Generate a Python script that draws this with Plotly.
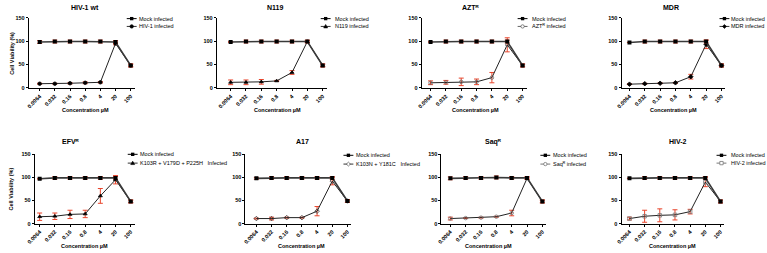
import plotly.graph_objects as go

# ---------------- data ----------------
conc = ["0.0064", "0.032", "0.16", "0.8", "4", "20", "100"]

titles = ["HIV-1 wt", "N119", "AZTᴿ", "MDR", "EFVᴿ", "A17", "Saqᴿ", "HIV-2"]
infected_names = ["HIV-1 infected", "N119 infected", "AZTᴿ infected", "MDR infected",
                  "K103R + V179D + P225H   Infected", "K103N + Y181C   Infected",
                  "Saqᴿ infected", "HIV-2 infected"]

mock_hiv1 = [98, 99, 99, 99, 99, 98, 48]
mock_hiv1_err = [3, 3, 3, 3, 3, 3, 3]
inf_hiv1 = [9, 9, 10, 11, 12, 95, 48]
inf_hiv1_err = [1, 1, 1.5, 2, 1.5, 3, 3]

mock_n119 = [98, 99, 99, 99, 99, 99, 48]
mock_n119_err = [1, 3, 3, 3, 3, 3, 3]
inf_n119 = [12, 12, 13, 15, 33, 99, 48]
inf_n119_err = [5, 5, 5, 1, 4, 2, 3]

mock_azt = [98, 99, 99, 99, 99, 99, 48]
mock_azt_err = [0, 3, 3, 3, 3, 3, 3]
inf_azt = [11, 12, 13, 13, 22, 92, 48]
inf_azt_err = [4, 4, 8, 6, 11, 15, 3]

mock_mdr = [97, 99, 99, 99, 99, 99, 48]
mock_mdr_err = [0, 3, 3, 3, 3, 3, 3]
inf_mdr = [8, 9, 10, 11, 24, 93, 48]
inf_mdr_err = [1, 1, 1, 1, 5, 9, 3]

mock_efv = [97, 99, 99, 99, 99, 99, 48]
mock_efv_err = [0, 3, 3, 3, 3, 3, 3]
inf_efv = [15, 16, 20, 21, 60, 95, 48]
inf_efv_err = [8, 7, 9, 8, 16, 9, 3]

mock_a17 = [98, 99, 99, 99, 99, 99, 49]
mock_a17_err = [2, 3, 3, 3, 3, 3, 3]
inf_a17 = [11, 11, 13, 13, 27, 92, 49]
inf_a17_err = [1, 3, 1, 1, 10, 8, 3]

mock_saq = [98, 99, 99, 100, 99, 99, 48]
mock_saq_err = [3, 3, 3, 3, 3, 3, 3]
inf_saq = [11, 12, 13, 15, 23, 98, 48]
inf_saq_err = [3, 1, 1, 1, 6, 2, 3]

mock_hiv2 = [98, 99, 99, 99, 99, 99, 48]
mock_hiv2_err = [0, 3, 3, 3, 3, 3, 3]
inf_hiv2 = [11, 16, 18, 19, 26, 90, 48]
inf_hiv2_err = [3, 13, 14, 11, 5, 10, 3]

mock_sets = [(mock_hiv1, mock_hiv1_err), (mock_n119, mock_n119_err), (mock_azt, mock_azt_err),
             (mock_mdr, mock_mdr_err), (mock_efv, mock_efv_err), (mock_a17, mock_a17_err),
             (mock_saq, mock_saq_err), (mock_hiv2, mock_hiv2_err)]
inf_sets = [(inf_hiv1, inf_hiv1_err), (inf_n119, inf_n119_err), (inf_azt, inf_azt_err),
            (inf_mdr, inf_mdr_err), (inf_efv, inf_efv_err), (inf_a17, inf_a17_err),
            (inf_saq, inf_saq_err), (inf_hiv2, inf_hiv2_err)]

# ---------------- styling / layout ----------------
W, H = 767, 253
FONT = "Liberation Sans Narrow, Liberation Sans, Arial, sans-serif"
FONT2 = "Liberation Sans, DejaVu Sans, Arial, sans-serif"
RED = "#e8452c"

# panel geometry in pixels: axis left, first cat, last cat, axis right, row
geom = [
    (21, 32, 124, 128, 0), (211, 225, 318, 322, 0), (418, 427, 520, 524, 0), (620, 628, 721, 725, 0),
    (27, 32, 124, 128, 1), (240, 251, 343, 347, 1), (438, 447, 540, 544, 1), (620, 628, 720, 724, 1),
]
rows_y = [(15, 87), (155, 226)]
title_pos = [(78, 5), (270, 5), (468, 5), (670, 5), (64, 142), (298, 142), (491, 142), (677, 142)]
xlab_pos = [(78, 110), (272, 110), (472, 110), (673, 110), (77, 249), (297, 249), (486, 249), (672, 249)]
leg_pos = [(125, 130, 16, 24), (321, 328, 16, 24), (520, 527, 16, 24), (724, 729, 16, 24),
           (126, 131, 155, 164), (344, 350, 156, 165), (543, 549, 156, 165), (721, 729, 156, 164)]
inf_marker = [("circle", "black"), ("triangle-up", "black"), ("circle-open", "#666"), ("diamond", "black"),
              ("triangle-up", "black"), ("diamond-open", "#333"), ("circle-open", "#777"), ("square-open", "#777")]


def px(x):
    return x / W


def py(y):
    return 1 - y / H


fig = go.Figure()
layout = dict(width=W, height=H, margin=dict(l=0, r=0, t=0, b=0),
              paper_bgcolor="white", plot_bgcolor="white", showlegend=False)
annotations = []
shapes = []

for i in range(8):
    L, C0, C6, R, row = geom[i]
    s = (C6 - C0) / 6
    xr = [-(C0 - L) / s, 6 + (R - C6) / s]
    yt, yb = rows_y[row]
    xa = "xaxis" if i == 0 else f"xaxis{i+1}"
    ya = "yaxis" if i == 0 else f"yaxis{i+1}"
    xref = "x" if i == 0 else f"x{i+1}"
    yref = "y" if i == 0 else f"y{i+1}"
    layout[xa] = dict(domain=[px(L), px(R)], anchor=yref, type="category", range=xr,
                      showline=True, linecolor="black", linewidth=1, ticks="outside", ticklen=2,
                      tickwidth=1, tickcolor="black", tickangle=-45, showgrid=False, zeroline=False,
                      tickfont=dict(family=FONT, size=5.5, color="black", weight="bold"))
    layout[ya] = dict(domain=[py(yb), py(yt)], anchor=xref, range=[0, 150], tickvals=[0, 50, 100, 150],
                      showline=True, linecolor="black", linewidth=1, ticks="outside", ticklen=2,
                      tickwidth=1, tickcolor="black", showgrid=False, zeroline=False,
                      tickfont=dict(family=FONT, size=5.5, color="black", weight="bold"))

    iv, ie = inf_sets[i]
    sym, col = inf_marker[i]
    fig.add_trace(go.Scatter(
        x=conc, y=iv, xaxis=xref, yaxis=yref, mode="lines+markers", name=infected_names[i],
        line=dict(color="#222", width=1),
        marker=dict(symbol=sym, size=3.5, color=col, line=dict(color=col, width=0.8)),
        error_y=dict(type="data", array=ie, visible=True, color=RED, thickness=1, width=2.5)))
    mv, me = mock_sets[i]
    fig.add_trace(go.Scatter(
        x=conc, y=mv, xaxis=xref, yaxis=yref, mode="lines+markers", name="Mock infected",
        line=dict(color="#3a3a3a", width=1.6),
        marker=dict(symbol="square", size=4, color="black"),
        error_y=dict(type="data", array=me, visible=True, color=RED, thickness=1, width=2.5)))

    tx, ty = title_pos[i]
    annotations.append(dict(text=titles[i], x=px(tx), y=py(ty), xref="paper", yref="paper",
                            xanchor="center", yanchor="middle", showarrow=False,
                            font=dict(family=FONT2, size=7, color="black", weight="bold")))
    lx, ly = xlab_pos[i]
    annotations.append(dict(text="Concentration µM", x=px(lx), y=py(ly), xref="paper", yref="paper",
                            xanchor="center", yanchor="middle", showarrow=False,
                            font=dict(family=FONT2, size=5.5, color="black", weight="bold")))

    # legend (keys drawn as shapes, labels as text)
    cx, tx0, y1, y2 = leg_pos[i]
    for yy, lcol in [(y1, "black"), (y2, "#333" if col == "black" else col)]:
        shapes.append(dict(type="line", xref="paper", yref="paper", x0=px(cx - 5), x1=px(cx + 5),
                           y0=py(yy), y1=py(yy), line=dict(color=lcol, width=1)))
    shapes.append(dict(type="rect", xref="paper", yref="paper", x0=px(cx - 1.7), x1=px(cx + 1.7),
                       y0=py(y1 + 1.7), y1=py(y1 - 1.7), fillcolor="black", line=dict(width=0)))
    open_ = sym.endswith("open")
    fillc = "white" if open_ else col
    if sym.startswith("circle"):
        shapes.append(dict(type="circle", xref="paper", yref="paper", x0=px(cx - 1.7), x1=px(cx + 1.7),
                           y0=py(y2 + 1.7), y1=py(y2 - 1.7), fillcolor=fillc, line=dict(color=col, width=0.8)))
    elif sym.startswith("square"):
        shapes.append(dict(type="rect", xref="paper", yref="paper", x0=px(cx - 1.7), x1=px(cx + 1.7),
                           y0=py(y2 + 1.7), y1=py(y2 - 1.7), fillcolor=fillc, line=dict(color=col, width=0.8)))
    elif sym.startswith("triangle"):
        path = f"M{px(cx - 2)},{py(y2 + 1.5)} L{px(cx + 2)},{py(y2 + 1.5)} L{px(cx)},{py(y2 - 2)} Z"
        shapes.append(dict(type="path", xref="paper", yref="paper", path=path, fillcolor=fillc,
                           line=dict(color=col, width=0.6)))
    else:
        path = (f"M{px(cx - 2)},{py(y2)} L{px(cx)},{py(y2 - 2)} L{px(cx + 2)},{py(y2)} "
                f"L{px(cx)},{py(y2 + 2)} Z")
        shapes.append(dict(type="path", xref="paper", yref="paper", path=path, fillcolor=fillc,
                           line=dict(color=col, width=0.6)))
    annotations.append(dict(text="Mock infected", x=px(tx0), y=py(y1), xref="paper", yref="paper",
                            xanchor="left", yanchor="middle", showarrow=False,
                            font=dict(family=FONT2, size=5.5, color="black")))
    annotations.append(dict(text=infected_names[i], x=px(tx0), y=py(y2), xref="paper", yref="paper",
                            xanchor="left", yanchor="middle", showarrow=False,
                            font=dict(family=FONT2, size=5.5, color="black")))

for yc in [51, 190]:
    annotations.append(dict(text="Cell Viability (%)", x=px(4), y=py(yc), xref="paper", yref="paper",
                            xanchor="center", yanchor="middle", showarrow=False, textangle=-90,
                            font=dict(family=FONT2, size=5.5, color="black", weight="bold")))

layout["annotations"] = annotations
layout["shapes"] = shapes
fig.update_layout(**layout)
fig.write_html("out.html")
